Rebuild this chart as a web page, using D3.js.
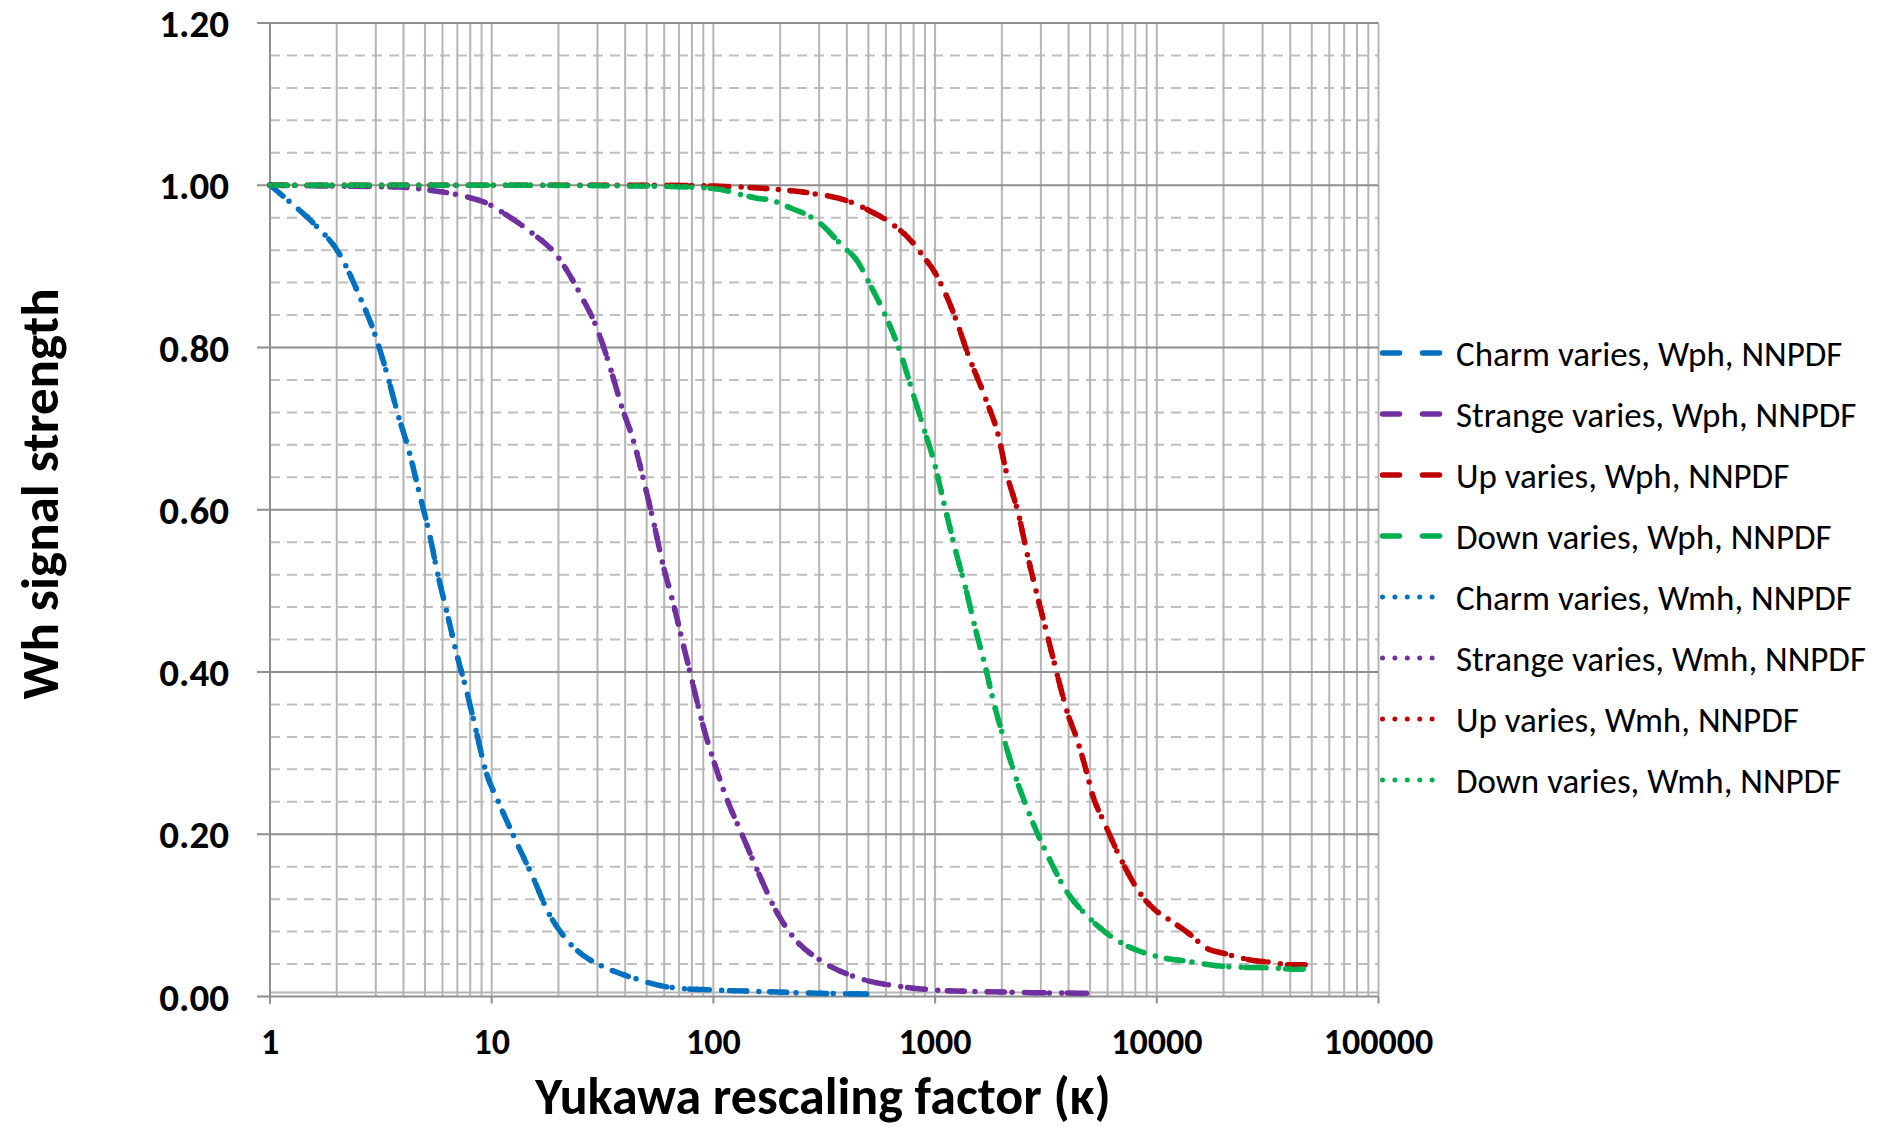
<!DOCTYPE html>
<html lang="en">
<head>
<meta charset="UTF-8">
<title>Wh signal strength vs Yukawa rescaling factor</title>
<script src="https://d3js.org/d3.v7.min.js"></script>
<style>
  body { margin: 0; background: #fff; }
  text { font-family: Carlito, Calibri, Lato, sans-serif; fill: #000; }
</style>
</head>
<body>
<svg width="1903" height="1130"></svg>
<script>
// values (kappa, signal strength)
var charmK   = [1, 1.21, 1.6, 2.05, 2.5, 3, 3.35, 3.8, 4.2, 4.75, 5.2, 5.75, 6.25, 7, 7.7, 8.4, 9.4, 10.8, 13.2, 15.4, 17.9, 21.8, 24, 27.8, 32.4, 45.7, 65, 100, 174, 293, 500];
var charmV   = [1.0, 0.981, 0.951, 0.916, 0.867, 0.813, 0.770, 0.715, 0.676, 0.617, 0.574, 0.517, 0.476, 0.419, 0.377, 0.334, 0.278, 0.238, 0.185, 0.146, 0.105, 0.070, 0.058, 0.045, 0.036, 0.021, 0.011, 0.008, 0.006, 0.004, 0.003];
var strangeK = [1, 2, 4, 4.9, 7.07, 9.8, 11.1, 14.9, 19.7, 25.4, 29.8, 34.7, 38.6, 43.5, 49.1, 53.5, 59.4, 65.3, 73.4, 80, 90, 100, 112.6, 136, 157, 194, 238, 298, 437, 708, 1000, 1680, 2780, 5000];
var strangeV = [1.0, 0.999, 0.9975, 0.995, 0.988, 0.976, 0.967, 0.943, 0.913, 0.863, 0.824, 0.770, 0.727, 0.686, 0.630, 0.587, 0.531, 0.489, 0.432, 0.390, 0.333, 0.2915, 0.250, 0.197, 0.157, 0.103, 0.068, 0.046, 0.024, 0.012, 0.008, 0.006, 0.0047, 0.004];
var upK      = [1, 10, 50, 100, 131, 193, 278, 400, 494, 619, 800, 870, 1010, 1240, 1415, 1700, 1935, 2080, 2400, 2590, 2915, 3190, 3600, 3960, 4355, 4840, 5100, 5870, 6810, 8740, 9790, 11470, 13900, 16900, 20200, 26500, 33000, 40000, 50000];
var upV      = [1.0, 1.0, 1.0, 0.999, 0.998, 0.995, 0.990, 0.981, 0.970, 0.955, 0.928, 0.915, 0.890, 0.835, 0.790, 0.735, 0.690, 0.650, 0.590, 0.548, 0.490, 0.448, 0.391, 0.349, 0.318, 0.275, 0.251, 0.211, 0.172, 0.121, 0.107, 0.094, 0.078, 0.059, 0.053, 0.045, 0.042, 0.039, 0.039];
var downK    = [1, 10, 50, 100, 131, 157, 186, 214, 297, 386, 442, 510, 600, 690, 800, 890, 985, 1110, 1250, 1375, 1495, 1690, 1840, 2030, 2345, 2670, 3270, 3870, 4900, 5900, 7200, 9800, 14000, 21000, 33500, 43800, 50000];
var downV    = [1.0, 1.0, 0.999, 0.996, 0.989, 0.984, 0.981, 0.974, 0.955, 0.924, 0.908, 0.877, 0.838, 0.797, 0.741, 0.700, 0.661, 0.602, 0.545, 0.503, 0.461, 0.405, 0.362, 0.320, 0.265, 0.224, 0.170, 0.132, 0.098, 0.0786, 0.0635, 0.050, 0.043, 0.0367, 0.035, 0.0335, 0.036];

// Wph and Wmh lie on top of each other in the picture, so they share the readings
var names   = ["Charm varies, Wph, NNPDF", "Strange varies, Wph, NNPDF", "Up varies, Wph, NNPDF", "Down varies, Wph, NNPDF",
               "Charm varies, Wmh, NNPDF", "Strange varies, Wmh, NNPDF", "Up varies, Wmh, NNPDF", "Down varies, Wmh, NNPDF"];
var colors  = ["#0070C0", "#7030A0", "#C00000", "#00B050"];
var kappas  = [charmK, strangeK, upK, downK];
var values  = [charmV, strangeV, upV, downV];

var xTicks = [1, 10, 100, 1000, 10000, 100000];
var yTicks = [0, 0.2, 0.4, 0.6, 0.8, 1.0, 1.2];

var svg = d3.select("svg"),
    margin = {top: 23, left: 270},
    width = 1108.5,
    height = 973.5,
    g = svg.append("g").attr("transform", "translate(" + margin.left + "," + margin.top + ")");

var x = d3.scaleLog().domain([1, 100000]).range([0, width]);
var y = d3.scaleLinear().domain([0, 1.2]).range([height, 0]);

// minor horizontal gridlines (dashed)
var minorY = d3.range(0, 1.2001, 0.04).filter(function(v) { return Math.abs(v / 0.2 - Math.round(v / 0.2)) > 0.01; });
g.selectAll(".minorY").data(minorY).enter().append("line")
    .attr("x1", 0).attr("x2", width)
    .attr("y1", function(d) { return y(d); }).attr("y2", function(d) { return y(d); })
    .attr("stroke", "#bfbfbf").attr("stroke-width", 2).attr("stroke-dasharray", "10,7");

// vertical gridlines, every 1..9 x decade
var vLines = [];
for (var e = 0; e < 5; e++) for (var m = 1; m < 10; m++) vLines.push(m * Math.pow(10, e));
vLines.push(100000);
g.selectAll(".vgrid").data(vLines).enter().append("line")
    .attr("x1", function(d) { return x(d); }).attr("x2", function(d) { return x(d); })
    .attr("y1", 0).attr("y2", height)
    .attr("stroke", "#b5b5b5").attr("stroke-width", 2);

// major horizontal gridlines + ticks to the left
g.selectAll(".majorY").data(yTicks).enter().append("line")
    .attr("x1", -13).attr("x2", width)
    .attr("y1", function(d) { return y(d); }).attr("y2", function(d) { return y(d); })
    .attr("stroke", "#8f8f8f").attr("stroke-width", 2);

// second line just above the axis, as in the reference
g.append("line").attr("x1", 0).attr("x2", width).attr("y1", height - 4).attr("y2", height - 4)
    .attr("stroke", "#b5b5b5").attr("stroke-width", 2);

// y axis line and x ticks
g.append("line").attr("x1", 0).attr("x2", 0).attr("y1", 0).attr("y2", height + 7)
    .attr("stroke", "#8f8f8f").attr("stroke-width", 2);
g.selectAll(".xtick").data(xTicks).enter().append("line")
    .attr("x1", function(d) { return x(d); }).attr("x2", function(d) { return x(d); })
    .attr("y1", height).attr("y2", height + 7)
    .attr("stroke", "#8f8f8f").attr("stroke-width", 2);

// tick labels
g.selectAll(".ylab").data(yTicks).enter().append("text")
    .attr("x", -41).attr("y", function(d) { return y(d); })
    .attr("dy", "0.36em")
    .attr("text-anchor", "end")
    .style("font-size", "39px").style("font-weight", "bold")
    .text(function(d) { return d3.format(".2f")(d); });

g.selectAll(".xlab").data(xTicks).enter().append("text")
    .attr("x", function(d) { return x(d); }).attr("y", height + 57)
    .attr("text-anchor", "middle")
    .style("font-size", "36px").style("font-weight", "bold")
    .text(function(d) { return d; });

// axis titles
svg.append("text")
    .attr("x", 823).attr("y", 1114)
    .attr("text-anchor", "middle")
    .style("font-size", "52px").style("font-weight", "bold")
    .text("Yukawa rescaling factor (\u03ba)");

svg.append("text")
    .attr("transform", "translate(58,494) rotate(-90)")
    .attr("text-anchor", "middle")
    .style("font-size", "53px").style("font-weight", "bold")
    .text("Wh signal strength");

// curves
var line = d3.line()
    .x(function(d) { return x(d[0]); })
    .y(function(d) { return y(d[1]); })
    .curve(d3.curveMonotoneX);

var dashStyle = ["17,23", "0,12.4"];

names.forEach(function(name, i) {
    var f = i % 4, kind = Math.floor(i / 4);
    var pts = kappas[f].map(function(k, j) { return [k, values[f][j]]; });
    g.append("path")
        .datum(pts)
        .attr("d", line)
        .attr("fill", "none")
        .attr("stroke", colors[f])
        .attr("stroke-width", 5.5)
        .attr("stroke-linecap", "round")
        .attr("stroke-dasharray", dashStyle[kind]);
});

// legend
var legend = svg.append("g").attr("transform", "translate(1380,353)");
names.forEach(function(name, i) {
    var f = i % 4, kind = Math.floor(i / 4);
    var row = legend.append("g").attr("transform", "translate(0," + (i * 61) + ")");
    row.append("line")
        .attr("x1", 2.5).attr("x2", 64).attr("y1", 0).attr("y2", 0)
        .attr("stroke", colors[f])
        .attr("stroke-width", kind ? 5 : 5.5)
        .attr("stroke-linecap", "round")
        .attr("stroke-dasharray", dashStyle[kind]);
    row.append("text")
        .attr("x", 76).attr("y", 0).attr("dy", "0.36em")
        .style("font-size", "35px")
        .text(name);
});
</script>
</body>
</html>
